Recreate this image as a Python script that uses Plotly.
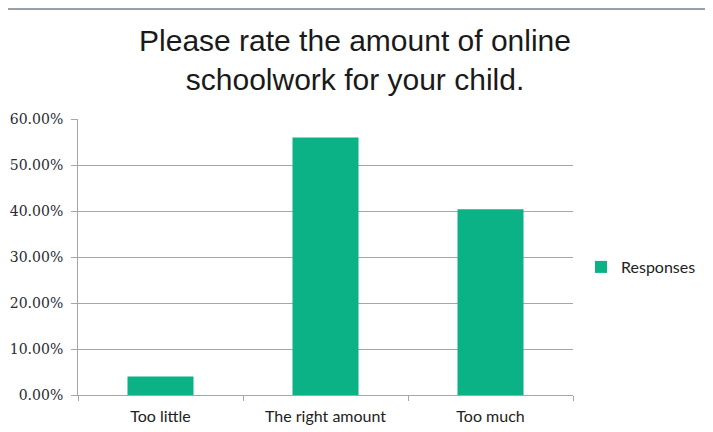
import plotly.graph_objects as go

categories = ["Too little", "The right amount", "Too much"]
responses = [0.040, 0.560, 0.404]
y_ticks = [0, 0.1, 0.2, 0.3, 0.4, 0.5, 0.6]
y_tick_labels = ["0.00%", "10.00%", "20.00%", "30.00%", "40.00%", "50.00%", "60.00%"]
series_name = "Responses"
title_text = "Please rate the amount of online<br>schoolwork for your child."

# page body has an 8px margin, so the figure is drawn 8px in from the top-left
W, H = 705, 424
L, R, T, B = 70, 140, 111, 37
pw, ph = W - L - R, H - T - B

def px_x(x):
    return (x - L) / pw

def px_y(y):
    return (H - B - y) / ph

border = "#9aa0a6"

fig = go.Figure()
fig.add_trace(go.Bar(
    x=categories, y=responses, name=series_name,
    marker=dict(color="#0bb286", line=dict(width=0)),
    width=0.4, showlegend=True,
))

fig.update_layout(
    width=W, height=H,
    margin=dict(l=L, r=R, t=T, b=B, autoexpand=False),
    paper_bgcolor="white", plot_bgcolor="white",
    title=dict(
        text=title_text,
        font=dict(family="Liberation Sans", size=30, color="#1a1a1a"),
        x=347 / W, xanchor="center", xref="container",
        y=1 - 43 / H, yanchor="middle", yref="container",
    ),
    showlegend=True,
    legend=dict(
        x=px_x(573), y=px_y(259), xanchor="left", yanchor="middle",
        font=dict(family="Lato", size=16, color="#222"),
        bgcolor="rgba(0,0,0,0)",
    ),
    shapes=[
        dict(type="line", xref="paper", yref="paper",
             x0=px_x(0), x1=px_x(704), y0=px_y(1), y1=px_y(1),
             line=dict(color=border, width=2), layer="below"),
        dict(type="line", xref="paper", yref="paper",
             x0=px_x(703), x1=px_x(703), y0=px_y(1), y1=px_y(430),
             line=dict(color=border, width=2), layer="below"),
    ],
)

fig.update_yaxes(
    range=[0, 0.6], tickvals=y_ticks, ticktext=y_tick_labels,
    showgrid=True, gridcolor="#a6a6a6", gridwidth=1,
    showline=True, linecolor="#a6a6a6", linewidth=1,
    ticks="outside", ticklen=6, tickcolor="#a6a6a6", ticklabelstandoff=5,
    tickfont=dict(family="DejaVu Serif", size=14, color="#2a2a35"),
    zeroline=False, fixedrange=True, automargin=False,
)
fig.update_xaxes(
    showline=True, linecolor="#a6a6a6", linewidth=1,
    ticks="outside", ticklen=5, tickcolor="#a6a6a6", tickson="boundaries",
    ticklabelstandoff=7,
    tickfont=dict(family="Lato", size=16, color="#222"),
    showgrid=False, automargin=False,
)

fig.write_html("out.html")
